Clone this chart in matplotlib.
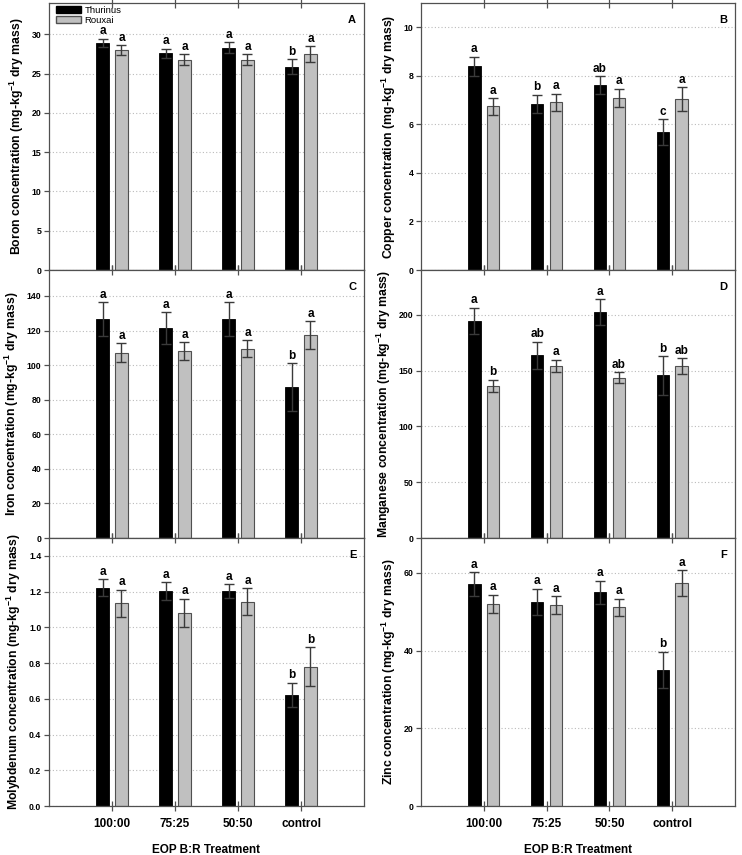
import matplotlib
matplotlib.use('Agg')
import matplotlib.pyplot as plt
import numpy as np
from matplotlib.patches import Patch
from matplotlib.ticker import FormatStrFormatter

plt.rcParams['font.family'] = ['Liberation Sans', 'DejaVu Sans']
plt.rcParams['mathtext.fontset'] = 'custom'
plt.rcParams['mathtext.rm'] = 'Liberation Sans'
plt.rcParams['mathtext.bf'] = 'Liberation Sans:bold'

# ---------------- data ----------------
treatments = ['100:00', '75:25', '50:50', 'control']
cultivars = ['Thurinus', 'Rouxai']

boron_thurinus = [28.9, 27.6, 28.3, 25.9]
boron_thurinus_err = [0.55, 0.6, 0.7, 0.95]
boron_rouxai = [28.0, 26.8, 26.8, 27.5]
boron_rouxai_err = [0.6, 0.7, 0.7, 1.0]
boron_thurinus_lett = ['a', 'a', 'a', 'b']
boron_rouxai_lett = ['a', 'a', 'a', 'a']

copper_thurinus = [8.39, 6.85, 7.62, 5.67]
copper_thurinus_err = [0.39, 0.37, 0.37, 0.54]
copper_rouxai = [6.74, 6.91, 7.10, 7.03]
copper_rouxai_err = [0.35, 0.36, 0.37, 0.50]
copper_thurinus_lett = ['a', 'b', 'ab', 'c']
copper_rouxai_lett = ['a', 'a', 'a', 'a']

iron_thurinus = [126.7, 121.5, 126.5, 87.2]
iron_thurinus_err = [9.8, 9.2, 9.8, 13.9]
iron_rouxai = [107.2, 108.2, 109.5, 117.4]
iron_rouxai_err = [5.4, 5.2, 5.0, 8.1]
iron_thurinus_lett = ['a', 'a', 'a', 'b']
iron_rouxai_lett = ['a', 'a', 'a', 'a']

manganese_thurinus = [194.3, 163.5, 202.4, 145.6]
manganese_thurinus_err = [12.0, 12.3, 11.7, 17.3]
manganese_rouxai = [136.3, 154.3, 143.5, 154.0]
manganese_rouxai_err = [5.4, 5.4, 5.1, 7.1]
manganese_thurinus_lett = ['a', 'ab', 'a', 'b']
manganese_rouxai_lett = ['b', 'a', 'ab', 'ab']

molybdenum_thurinus = [1.222, 1.202, 1.202, 0.621]
molybdenum_thurinus_err = [0.047, 0.049, 0.040, 0.069]
molybdenum_rouxai = [1.135, 1.082, 1.144, 0.779]
molybdenum_rouxai_err = [0.075, 0.078, 0.075, 0.109]
molybdenum_thurinus_lett = ['a', 'a', 'a', 'b']
molybdenum_rouxai_lett = ['a', 'a', 'a', 'b']

zinc_thurinus = [57.1, 52.6, 55.0, 35.1]
zinc_thurinus_err = [3.1, 3.3, 3.0, 4.6]
zinc_rouxai = [52.1, 51.7, 51.2, 57.4]
zinc_rouxai_err = [2.3, 2.3, 2.2, 3.3]
zinc_thurinus_lett = ['a', 'a', 'a', 'b']
zinc_rouxai_lett = ['a', 'a', 'a', 'a']

panels = [
    dict(tag='A', name='Boron', th=boron_thurinus, the=boron_thurinus_err, ro=boron_rouxai,
         roe=boron_rouxai_err, tl=boron_thurinus_lett, rl=boron_rouxai_lett,
         ylim=34, ticks=np.arange(0, 31, 5), fmt='%d'),
    dict(tag='B', name='Copper', th=copper_thurinus, the=copper_thurinus_err, ro=copper_rouxai,
         roe=copper_rouxai_err, tl=copper_thurinus_lett, rl=copper_rouxai_lett,
         ylim=11, ticks=np.arange(0, 11, 2), fmt='%d'),
    dict(tag='C', name='Iron', th=iron_thurinus, the=iron_thurinus_err, ro=iron_rouxai,
         roe=iron_rouxai_err, tl=iron_thurinus_lett, rl=iron_rouxai_lett,
         ylim=155, ticks=np.arange(0, 141, 20), fmt='%d'),
    dict(tag='D', name='Manganese', th=manganese_thurinus, the=manganese_thurinus_err,
         ro=manganese_rouxai, roe=manganese_rouxai_err, tl=manganese_thurinus_lett,
         rl=manganese_rouxai_lett, ylim=240, ticks=np.arange(0, 201, 50), fmt='%d'),
    dict(tag='E', name='Molybdenum', th=molybdenum_thurinus, the=molybdenum_thurinus_err,
         ro=molybdenum_rouxai, roe=molybdenum_rouxai_err, tl=molybdenum_thurinus_lett,
         rl=molybdenum_rouxai_lett, ylim=1.5, ticks=np.arange(0, 1.41, 0.2), fmt='%.1f'),
    dict(tag='F', name='Zinc', th=zinc_thurinus, the=zinc_thurinus_err, ro=zinc_rouxai,
         roe=zinc_rouxai_err, tl=zinc_thurinus_lett, rl=zinc_rouxai_lett,
         ylim=69, ticks=np.arange(0, 61, 20), fmt='%d'),
]

# ---------------- layout ----------------
W, H = 742, 855
fig = plt.figure(figsize=(W / 100, H / 100), dpi=100)

col_x = [(49, 364), (421, 735)]
row_y = [(3, 270), (270, 538), (538, 806)]

spine_col = '#505050'
err_col = '#3a3a3a'
x = np.arange(1, len(treatments) + 1)
off = 0.15
bw = 0.195

for i, p in enumerate(panels):
    r, c = divmod(i, 2)
    x0, x1 = col_x[c]
    y0, y1 = row_y[r]
    ax = fig.add_axes([x0 / W, 1 - y1 / H, (x1 - x0) / W, (y1 - y0) / H])
    ax.set_xlim(0, 5)
    ax.set_ylim(0, p['ylim'])
    ax.set_axisbelow(True)
    ax.yaxis.grid(True, linestyle=(0, (1, 2)), color='#bbbbbb', linewidth=0.8)

    ax.bar(x - off, p['th'], bw, color='black', edgecolor='black', linewidth=0.6, zorder=2)
    ax.bar(x + off, p['ro'], bw, color='#c0c0c0', edgecolor='#505050', linewidth=0.8, zorder=2)
    ax.errorbar(x - off, p['th'], yerr=p['the'], fmt='none', ecolor=err_col, elinewidth=1,
                capsize=3.5, capthick=1, zorder=3)
    ax.errorbar(x + off, p['ro'], yerr=p['roe'], fmt='none', ecolor=err_col, elinewidth=1,
                capsize=3.5, capthick=1, zorder=3)

    for xi, v, e, l in zip(x - off, p['th'], p['the'], p['tl']):
        ax.annotate(l, (xi, v + e), xytext=(0, 1.0), textcoords='offset points',
                    ha='center', va='bottom', fontsize=8.5, fontweight='bold')
    for xi, v, e, l in zip(x + off, p['ro'], p['roe'], p['rl']):
        ax.annotate(l, (xi, v + e), xytext=(0, 1.0), textcoords='offset points',
                    ha='center', va='bottom', fontsize=8.5, fontweight='bold')

    ax.text(0.975, 0.955, p['tag'], transform=ax.transAxes, ha='right', va='top',
            fontsize=8, fontweight='bold')

    ax.set_yticks(p['ticks'])
    ax.yaxis.set_major_formatter(FormatStrFormatter(p['fmt']))
    ax.set_xticks(x)
    if r == 2:
        ax.set_xticklabels(treatments, fontsize=8.5, fontweight='bold')
        ax.set_xlabel('EOP B:R Treatment', fontsize=8.5, fontweight='bold', labelpad=10)
    else:
        ax.set_xticklabels([])
    ax.tick_params(axis='x', direction='inout', length=7, width=0.9, color=spine_col,
                   top=True, pad=5)
    ax.tick_params(axis='y', direction='out', length=3.5, width=0.9, color=spine_col,
                   labelsize=6.3, pad=2)
    for lab in ax.get_yticklabels():
        lab.set_fontweight('bold')

    for s in ax.spines.values():
        s.set_color(spine_col)
        s.set_linewidth(0.9)

    ax.set_ylabel(p['name'] + r' concentration (mg-kg$^{\mathbf{-1}}$ dry mass)',
                  fontsize=8.8, fontweight='bold', labelpad=4)

    if i == 0:
        handles = [Patch(facecolor='black', edgecolor='black', label=cultivars[0]),
                   Patch(facecolor='#c0c0c0', edgecolor='#505050', label=cultivars[1])]
        ax.legend(handles=handles, loc='upper left', bbox_to_anchor=(0.012, 1.0),
                  frameon=False, fontsize=6.8, handlelength=2.7, handleheight=0.7,
                  handletextpad=0.35, labelspacing=0.1, borderaxespad=0.1,
                  borderpad=0.2)

fig.savefig('out.png', dpi=100)
